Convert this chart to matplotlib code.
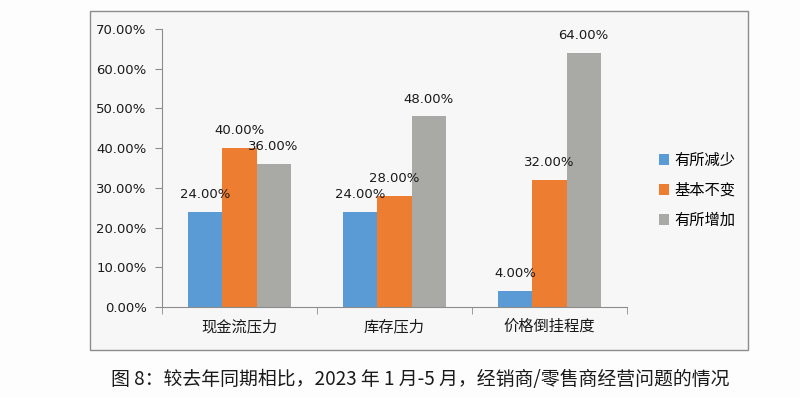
import matplotlib
matplotlib.use("Agg")
import matplotlib.pyplot as plt
import numpy as np
from matplotlib.patches import Rectangle

# data
categories = ["现金流压力", "库存压力", "价格倒挂程度"]
series_names = ["有所减少", "基本不变", "有所增加"]
decrease = [0.24, 0.24, 0.04]
unchanged = [0.40, 0.28, 0.32]
increase = [0.36, 0.48, 0.64]
colors = ["#5B9BD5", "#ED7D31", "#A9A9A5"]
yticks = [0.0, 0.1, 0.2, 0.3, 0.4, 0.5, 0.6, 0.7]
caption = "图 8：较去年同期相比，2023 年 1 月-5 月，经销商/零售商经营问题的情况"

cjk = ["Noto Sans CJK SC", "DejaVu Sans"]

fig = plt.figure(figsize=(8, 3.98), dpi=100, facecolor="#fdfdfd")
W, H = 800, 398

# outer chart frame
fig.patches.append(Rectangle((90 / W, 1 - 350 / H), (748 - 90) / W, (350 - 11) / H,
                             transform=fig.transFigure, facecolor="#f7f7f7",
                             edgecolor="#8c8c8c", linewidth=1.0, zorder=-5))

ax = fig.add_axes([162 / W, 1 - 307 / H, (627 - 162) / W, (307 - 29) / H])
ax.set_facecolor("none")

x = np.arange(len(categories))
w = 0.22
all_series = [decrease, unchanged, increase]
for i, (vals, name, c) in enumerate(zip(all_series, series_names, colors)):
    bars = ax.bar(x + (i - 1) * w, vals, width=w, color=c, label=name, zorder=2)
    for b, v in zip(bars, vals):
        ax.text(b.get_x() + b.get_width() / 2, v + 0.027, f"{v * 100:.2f}%",
                ha="center", va="bottom", fontsize=9.5, color="#1a1a1a",
                family="DejaVu Sans")

ax.set_xlim(-0.5, 2.5)
ax.set_ylim(0, 0.7)
ax.set_yticks(yticks)
ax.set_yticklabels([f"{t * 100:.2f}%" for t in yticks], fontsize=9.5, color="#1a1a1a")
ax.set_xticks(x)
ax.set_xticklabels(categories, family=cjk, fontsize=11, color="#1a1a1a")
ax.set_xticks([-0.5, 0.5, 1.5, 2.5], minor=True)
ax.tick_params(axis="x", which="major", length=0, pad=8)
ax.tick_params(axis="x", which="minor", length=5, color="#8c8c8c")
ax.tick_params(axis="y", length=5, color="#8c8c8c", pad=6)
for s in ["top", "right"]:
    ax.spines[s].set_visible(False)
for s in ["left", "bottom"]:
    ax.spines[s].set_color("#8c8c8c")

leg = fig.legend(loc="upper left", bbox_to_anchor=(645 / W, 1 - 138 / H),
                 frameon=False, prop={"family": cjk, "size": 11},
                 handlelength=0.7, handleheight=0.7, handletextpad=0.3,
                 labelspacing=0.85)

fig.text(420 / W, 1 - 380 / H, caption, ha="center", va="center",
         fontsize=13.6, family=cjk, color="#1a1a1a")

fig.savefig("out.png", dpi=100, facecolor=fig.get_facecolor())
